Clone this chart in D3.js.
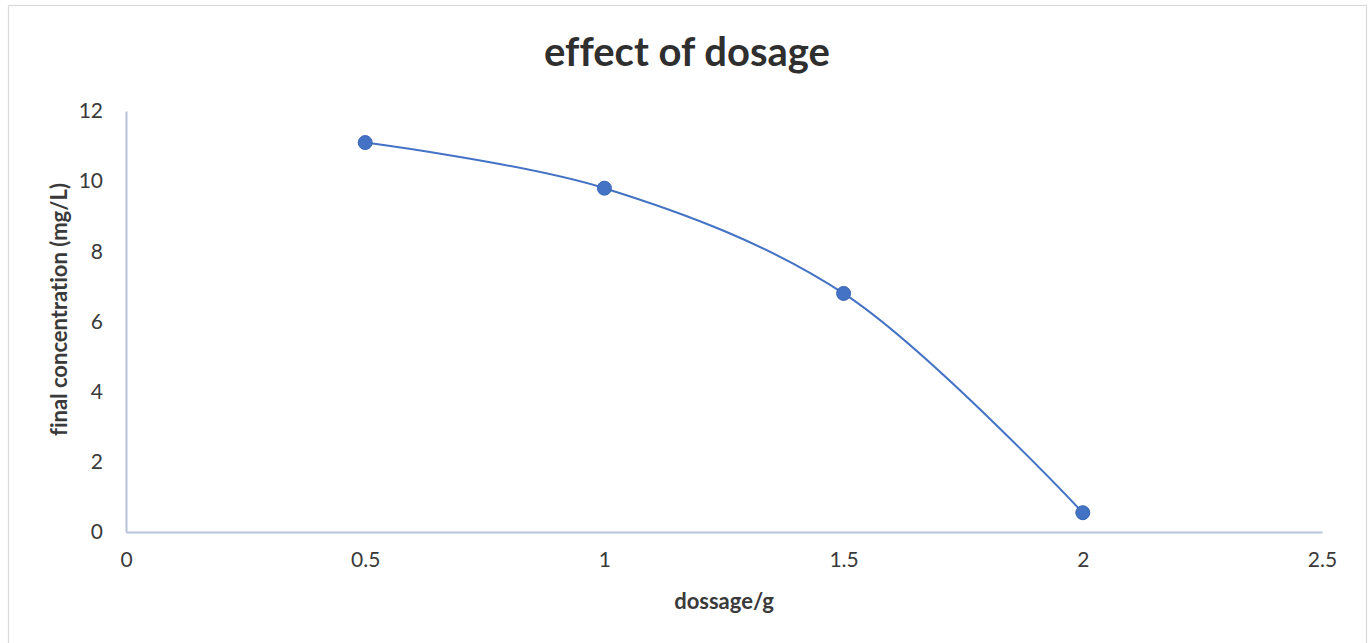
<!DOCTYPE html>
<html>
<head>
<meta charset="utf-8">
<script src="https://cdn.jsdelivr.net/npm/d3@7"></script>
<style>
  html, body { margin: 0; padding: 0; background: #fff; }
  svg { display: block; }
  text { font-family: Lato, "Open Sans", sans-serif; font-variant-ligatures: none; }
</style>
</head>
<body>
<svg id="chart" width="1372" height="643"></svg>
<script>
// Dosage (g) against final concentration (mg/L)
const dosage = [0.5, 1, 1.5, 2];
const concentration = [11.1, 9.8, 6.8, 0.55];
const xTicks = [0, 0.5, 1, 1.5, 2, 2.5];
const yTicks = [0, 2, 4, 6, 8, 10, 12];
const titleText = "effect of dosage";
const xLabel = "dossage/g";
const yLabel = "final concentration (mg/L)";

const plot = { left: 126, right: 1322, top: 111, bottom: 532 };
const ink = "#3A3A3A";
const blue = "#4472C4";
const axisColor = "#B7C3DA";

const svg = d3.select("#chart");

// chart frame
svg.append("rect")
  .attr("x", 8.5).attr("y", 5.5)
  .attr("width", 1358).attr("height", 660)
  .attr("fill", "#fff")
  .attr("stroke", "#D9D9D9").attr("stroke-width", 1.2);

const x = d3.scaleLinear().domain([0, 2.5]).range([plot.left, plot.right]);
const y = d3.scaleLinear().domain([0, 12]).range([plot.bottom, plot.top]);

// x axis
const xAxis = svg.append("g")
  .attr("transform", `translate(0,${plot.bottom})`)
  .call(d3.axisBottom(x).tickValues(xTicks).tickSize(0).tickPadding(20)
    .tickFormat(d => String(d)));
xAxis.select(".domain").attr("stroke", axisColor).attr("stroke-width", 2);
xAxis.selectAll("text")
  .attr("fill", ink).attr("font-size", 21)
  .style("font-family", "Lato, 'Open Sans', sans-serif");

// y axis
const yAxis = svg.append("g")
  .attr("transform", `translate(${plot.left},0)`)
  .call(d3.axisLeft(y).tickValues(yTicks).tickSize(0).tickPadding(23)
    .tickFormat(d => String(d)));
yAxis.select(".domain").attr("stroke", axisColor).attr("stroke-width", 2);
yAxis.selectAll("text")
  .attr("fill", ink).attr("font-size", 21)
  .style("font-family", "Lato, 'Open Sans', sans-serif");

// smoothed series line
const pts = dosage.map((d, i) => [d, concentration[i]]);
const line = d3.line()
  .x(d => x(d[0])).y(d => y(d[1]))
  .curve(d3.curveCatmullRom.alpha(0.5));
svg.append("path")
  .datum(pts)
  .attr("d", line)
  .attr("fill", "none")
  .attr("stroke", blue)
  .attr("stroke-width", 2);

// markers
svg.selectAll("circle.pt")
  .data(pts)
  .join("circle")
  .attr("class", "pt")
  .attr("cx", d => x(d[0]))
  .attr("cy", d => y(d[1]))
  .attr("r", 7)
  .attr("fill", blue)
  .attr("stroke", "#3A66B5")
  .attr("stroke-width", 1);

// title
svg.append("text")
  .attr("x", 687).attr("y", 66)
  .attr("text-anchor", "middle")
  .attr("font-size", 40)
  .attr("font-weight", "bold")
  .attr("fill", "#2F2F2F")
  .text(titleText);

// axis titles
svg.append("text")
  .attr("x", (plot.left + plot.right) / 2).attr("y", 609)
  .attr("text-anchor", "middle")
  .attr("font-size", 22)
  .attr("font-weight", "bold")
  .attr("fill", ink)
  .text(xLabel);

svg.append("text")
  .attr("transform", `translate(67,${(plot.top + plot.bottom) / 2 - 12}) rotate(-90)`)
  .attr("text-anchor", "middle")
  .attr("font-size", 22)
  .attr("font-weight", "bold")
  .attr("fill", ink)
  .text(yLabel);
</script>
</body>
</html>
